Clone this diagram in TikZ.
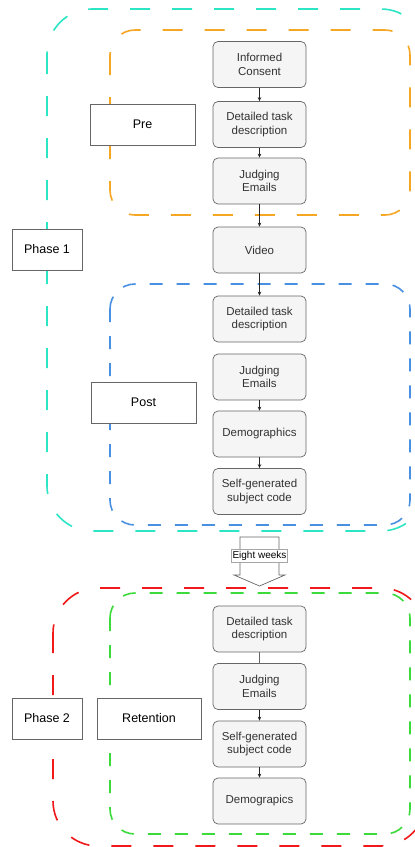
\documentclass[tikz,border=0pt]{standalone}
\usepackage{fontspec}
\setmainfont{Liberation Sans}
\usetikzlibrary{arrows.meta}
\definecolor{cyanc}{HTML}{2CE5C4}
\definecolor{orangec}{HTML}{F5A623}
\definecolor{bluec}{HTML}{4A90E2}
\definecolor{redc}{HTML}{F01818}
\definecolor{greenc}{HTML}{3BDB3B}
\definecolor{boxfill}{HTML}{F5F5F5}
\definecolor{boxline}{HTML}{666666}
\definecolor{boxtext}{HTML}{333333}
\tikzset{
  stepbox/.style={draw=boxline, fill=boxfill, rounded corners=5pt, line width=0.7pt,
    minimum width=93pt, minimum height=46pt, inner sep=1pt, align=center,
    text=boxtext, font=\fontsize{11.5}{13.7}\selectfont},
  labelbox/.style={draw=boxline, fill=white, line width=0.8pt, minimum height=41pt,
    inner sep=1pt, align=center, font=\fontsize{12.5}{15}\selectfont},
  longdash/.style={line width=1.6pt, dash pattern=on 20pt off 22pt, rounded corners=45pt},
  middash/.style={line width=1.6pt, dash pattern=on 20pt off 22pt, rounded corners=25pt},
  shortdash/.style={line width=1.6pt, dash pattern=on 13pt off 14pt, rounded corners=25pt},
  conn/.style={draw=black!85, line width=0.6pt, -{Stealth[length=4pt,width=3.5pt]}},
}
\begin{document}
\begin{tikzpicture}[x=1pt,y=-1pt]
\useasboundingbox (0,0) rectangle (415,847);
\clip (0,0) rectangle (415,847);
% containers
\draw[longdash, draw=cyanc] (47,9) rectangle (426,531);
\draw[middash, draw=orangec] (110,30) rectangle (410,215);
\draw[shortdash, draw=bluec] (110,284) rectangle (410,525);
\draw[longdash, draw=redc] (53,588) rectangle (426,846);
\draw[shortdash, draw=greenc] (110,593) rectangle (410,834);
% flow boxes
\node[stepbox] (ic)  at (259.5,64.5) {Informed\\Consent};
\node[stepbox] (dt1) at (259.5,124.5) {Detailed task\\description};
\node[stepbox] (je1) at (259.5,181) {Judging\\Emails};
\node[stepbox] (vid) at (259.5,250) {Video};
\node[stepbox] (dt2) at (259.5,319) {Detailed task\\description};
\node[stepbox] (je2) at (259.5,377) {Judging\\Emails};
\node[stepbox] (dg2) at (259.5,434) {Demographics};
\node[stepbox] (sg2) at (259.5,491.5) {Self-generated\\subject code};
\node[stepbox] (dt3) at (259.5,629) {Detailed task\\description};
\node[stepbox] (je3) at (259.5,686.5) {Judging\\Emails};
\node[stepbox] (sg3) at (259.5,744) {Self-generated\\subject code};
\node[stepbox] (dg3) at (259.5,801) {Demograpics};
% connectors
\draw[conn] (ic) -- (dt1);
\draw[conn] (dt1) -- (je1);
\draw[conn] (je1) -- (vid);
\draw[conn] (vid) -- (dt2);
\draw[conn] (je2) -- (dg2);
\draw[conn] (dg2) -- (sg2);
\draw[draw=boxline, line width=0.7pt] (dt3) -- (je3);
\draw[conn] (je3) -- (sg3);
\draw[conn] (sg3) -- (dg3);
% labels
\node[labelbox, minimum width=105pt] (pre) at (142.5,124.5) {Pre};
\node[labelbox, minimum width=70pt] (ph1) at (47,249.5) {Phase 1};
\node[labelbox, minimum width=105pt] (post) at (143.5,402.5) {Post};
\node[labelbox, minimum width=70pt] (ph2) at (47,718.5) {Phase 2};
\node[labelbox, minimum width=104pt] (ret) at (149,718.5) {Retention};
% eight weeks block arrow
\coordinate (ewtop) at (259.5,537);
\draw[draw=boxline, fill=white, line width=0.7pt, line join=miter]
  (240,537) -- (279,537) -- (279,575) -- (285,575) -- (259.5,586) -- (234,575) -- (240,575) -- cycle;
\node[draw=black!35, fill=white, line width=0.5pt, inner sep=1pt, minimum height=13pt,
  font=\fontsize{10}{12}\selectfont] (ew) at (259.5,555.5) {Eight weeks};
\end{tikzpicture}
\end{document}
